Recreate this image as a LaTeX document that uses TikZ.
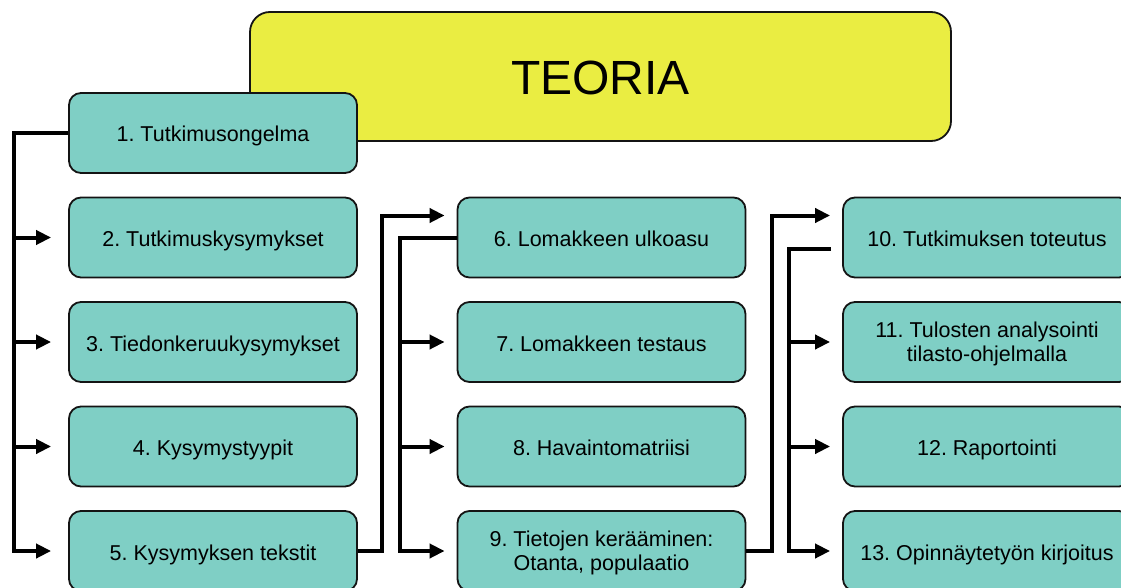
\documentclass[tikz,border=0pt]{standalone}
\usepackage{fontspec}
\setmainfont{Liberation Sans}
\usetikzlibrary{arrows.meta}
\definecolor{boxteal}{RGB}{127,207,197}
\definecolor{titleyellow}{RGB}{234,237,66}
\definecolor{edge}{RGB}{20,20,20}
\frenchspacing
\begin{document}
\begin{tikzpicture}[x=1pt,y=-1pt,
  stepbox/.style={draw=edge, line width=1.8pt, rounded corners=12pt, fill=boxteal,
    minimum width=288pt, minimum height=80pt, align=center, inner sep=2pt,
    text height=18pt, text depth=0pt,
    font=\fontsize{21.5}{24}\selectfont},
  twoline/.style={text height=39.4pt, text depth=0pt},
  titlebox/.style={draw=edge, line width=1.8pt, rounded corners=20pt, fill=titleyellow,
    minimum width=701pt, minimum height=129pt, text height=36pt, text depth=0pt,
    font=\fontsize{48}{54}\selectfont},
  link/.style={line width=4pt, line join=miter},
  flow/.style={link, -{Triangle[length=15pt,width=14pt]}}
]
\useasboundingbox (0,0) rectangle (1121,588);

% title
\node[titlebox] (teoria) at (600.5,76.5) {TEORIA};

% left column
\node[stepbox] (b1) at (213,133) {1. Tutkimusongelma};
\node[stepbox] (b2) at (213,237.5) {2. Tutkimuskysymykset};
\node[stepbox] (b3) at (213,342) {3. Tiedonkeruukysymykset};
\node[stepbox] (b4) at (213,446.5) {4. Kysymystyypit};
\node[stepbox] (b5) at (213,551) {5. Kysymyksen tekstit};

% middle column
\node[stepbox] (b6) at (601.5,237.5) {6. Lomakkeen ulkoasu};
\node[stepbox] (b7) at (601.5,342) {7. Lomakkeen testaus};
\node[stepbox] (b8) at (601.5,446.5) {8. Havaintomatriisi};
\node[stepbox,twoline] (b9) at (601.5,551) {9. Tietojen kerääminen:\\Otanta, populaatio};

% right column
\node[stepbox] (b10) at (987,237.5) {10. Tutkimuksen toteutus};
\node[stepbox,twoline] (b11) at (987,342) {11. Tulosten analysointi\\tilasto-ohjelmalla};
\node[stepbox] (b12) at (987,446.5) {12. Raportointi};
\node[stepbox] (b13) at (987,551) {13. Opinnäytetyön kirjoitus};

% trunk positions
\coordinate (L) at (14,0);
\coordinate (M1) at (381.5,0);
\coordinate (M2) at (400,0);
\coordinate (R1) at (771.5,0);
\coordinate (R2) at (789,0);

% left trunk: 1 -> 2..5
\draw[flow] (b1.west) -- (L |- b1.west) -- (L |- b5.west) -- ([xshift=-17pt]b5.west);
\foreach \n in {b2,b3,b4}
  \draw[flow] (L |- \n.west) -- ([xshift=-17pt]\n.west);

% 5 -> 6
\coordinate (in6) at ([xshift=-12pt,yshift=22pt]b6.west);
\draw[flow] (b5.east) -- (M1 |- b5.east) -- (M1 |- in6) -- (in6);

% middle trunk: 6 -> 7..9
\draw[flow] (b6.west) -- (M2 |- b6.west) -- (M2 |- b9.west) -- ([xshift=-12pt]b9.west);
\foreach \n in {b7,b8}
  \draw[flow] (M2 |- \n.west) -- ([xshift=-12pt]\n.west);

% 9 -> 10
\coordinate (in10) at ([xshift=-12pt,yshift=22pt]b10.west);
\draw[flow] (b9.east) -- (R1 |- b9.east) -- (R1 |- in10) -- (in10);

% right trunk: 10 -> 11..13
\coordinate (out10) at ([xshift=-11pt,yshift=-11pt]b10.west);
\draw[flow] (out10) -- (R2 |- out10) -- (R2 |- b13.west) -- ([xshift=-12pt]b13.west);
\foreach \n in {b11,b12}
  \draw[flow] (R2 |- \n.west) -- ([xshift=-12pt]\n.west);
\end{tikzpicture}
\end{document}
